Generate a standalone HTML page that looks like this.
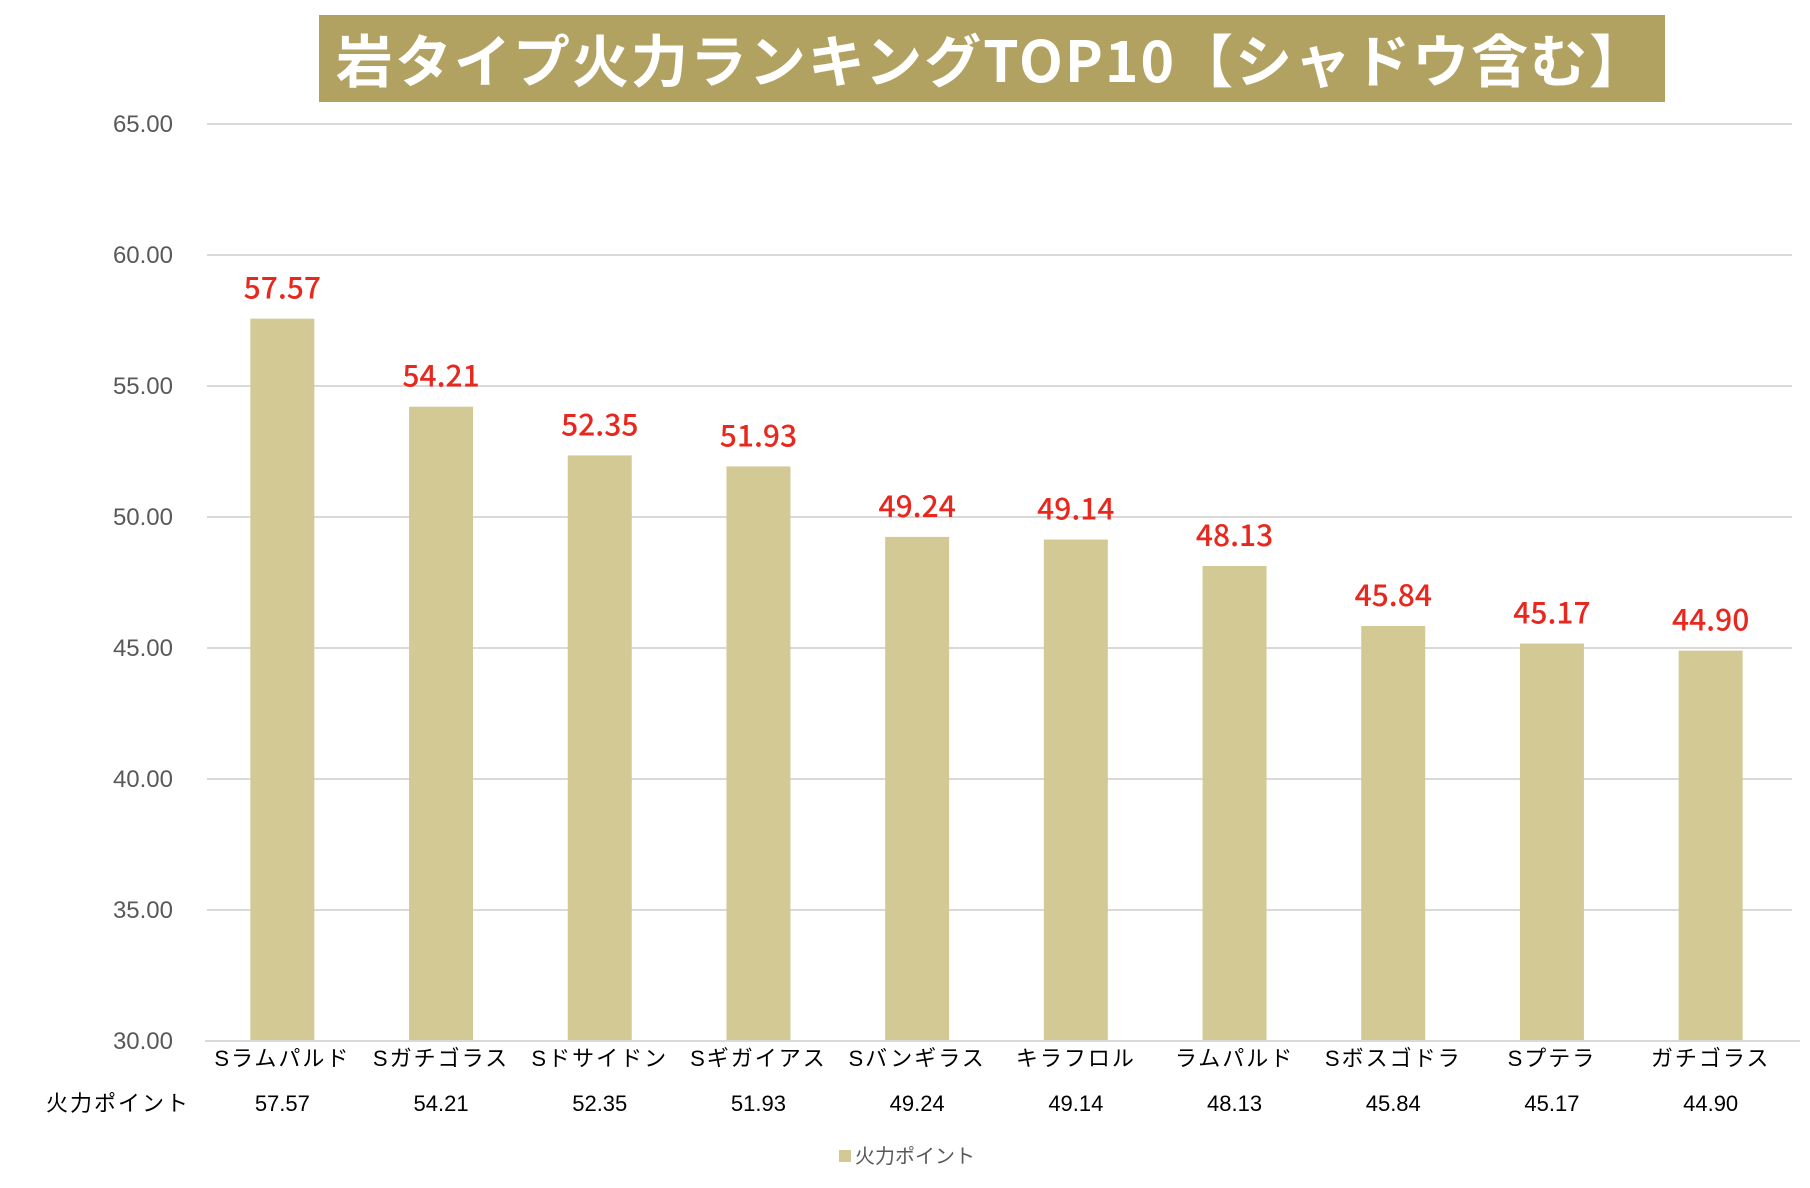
<!DOCTYPE html>
<html><head><meta charset="utf-8"><style>
html,body{margin:0;padding:0;background:#fff;}
body{width:1810px;height:1188px;position:relative;overflow:hidden;font-family:"Liberation Sans","Noto Sans CJK JP",sans-serif;}
#title{position:absolute;left:319px;top:15px;width:1346px;height:87px;background:#b2a262;color:#fff;font-family:"Noto Sans CJK JP",sans-serif;font-weight:bold;font-size:57px;line-height:87px;text-align:center;letter-spacing:2px;}
</style></head><body>
<div id="title">岩タイプ火力ランキングTOP10【シャドウ含む】</div>
<svg id="chart" width="1810" height="1188" style="position:absolute;left:0;top:0"></svg>
<script>
const categories=["Sラムパルド","Sガチゴラス","Sドサイドン","Sギガイアス","Sバンギラス","キラフロル","ラムパルド","Sボスゴドラ","Sプテラ","ガチゴラス"];
const values=[57.57,54.21,52.35,51.93,49.24,49.14,48.13,45.84,45.17,44.90];
const ticks=[30,35,40,45,50,55,60,65];
const NS="http://www.w3.org/2000/svg";
const svg=document.getElementById('chart');
const plotL=204,plotR=1791,yTop=124,yBot=1041,yMin=30,yMax=65;
const step=(plotR-plotL)/categories.length;
function y(v){return yBot-(v-yMin)/(yMax-yMin)*(yBot-yTop);}
function x(i){return plotL+step*(i+0.5)-1;}
function mk(tag,attrs,text){const e=document.createElementNS(NS,tag);for(const k in attrs)e.setAttribute(k,attrs[k]);if(text!==undefined)e.textContent=text;svg.appendChild(e);return e;}
const font='"Liberation Sans","Noto Sans CJK JP",sans-serif';
ticks.forEach(t=>{
  const g=mk('line',{x1:207,x2:1792,y1:y(t),y2:y(t),stroke:'#d9d9d9','stroke-width':2});
  
  
  const l=mk('text',{x:173,y:y(t)+8,'text-anchor':'end','font-size':24,fill:'#595959','font-family':font},t.toFixed(2));
  
  
});
values.forEach((v,i)=>{
  const b=mk('rect',{x:x(i)-32,y:y(v),width:64,height:yBot-y(v),fill:'#d3c994'});
  
  
  const lb=mk('text',{x:x(i),y:y(v)-20,'text-anchor':'middle','font-size':30,'font-weight':500,fill:'#e8281e','font-family':'"Noto Sans CJK JP",sans-serif'},v.toFixed(2));
  
  
  const c=mk('text',{x:x(i),y:1066,'text-anchor':'middle','font-size':22,fill:'#000','font-family':font,'letter-spacing':2},categories[i]);
  
  
  const d=mk('text',{x:x(i),y:1111,'text-anchor':'middle','font-size':22,fill:'#000','font-family':font},v.toFixed(2));
  
  
});
const ax=mk('line',{x1:205,x2:1800,y1:yBot,y2:yBot,stroke:'#d9d9d9','stroke-width':2});


const rh=mk('text',{x:46,y:1111,'font-size':22,fill:'#000','font-family':font,'letter-spacing':2},'火力ポイント');


const ls=mk('rect',{x:839,y:1150,width:12,height:12,fill:'#d3c994'});


const lt=mk('text',{x:855,y:1163,'font-size':20,fill:'#595959','font-family':font},'火力ポイント');


</script>
</body></html>
